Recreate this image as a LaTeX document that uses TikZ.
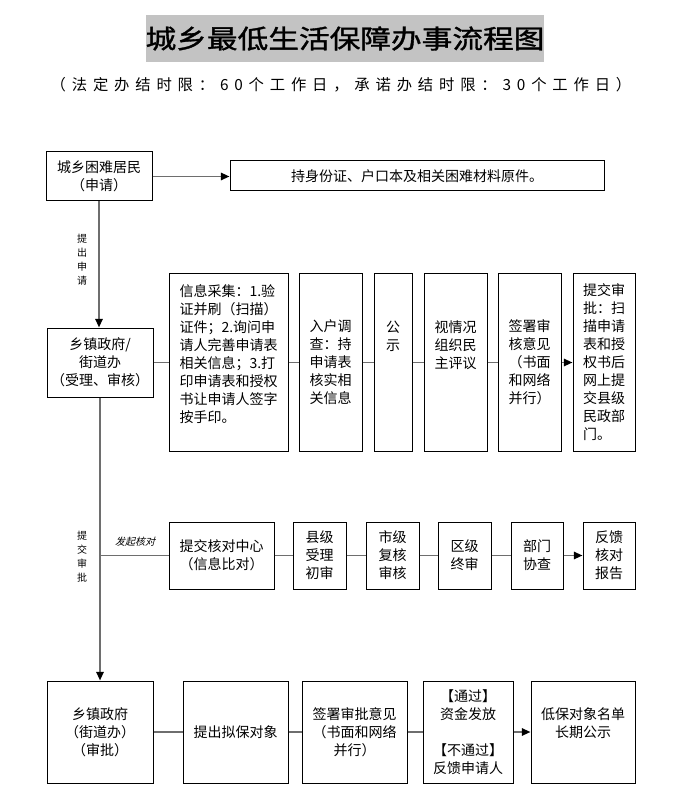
\documentclass[tikz,border=0pt]{standalone}
\usepackage{graphicx}
\usepackage{fontspec}
\setmainfont{Noto Sans CJK SC}
\newfontfamily\slcjk{Noto Sans CJK SC}[FakeSlant=0.25]
\newfontfamily\subfont{Noto Sans CJK SC}[LetterSpace=38]
\newfontfamily\titlefont{Noto Sans CJK SC}[FakeBold=1.2]
\usetikzlibrary{arrows.meta}
\definecolor{linegray}{RGB}{110,110,110}
\definecolor{titlegray}{RGB}{195,195,195}
\tikzset{
 box/.style={draw=black, line width=0.75pt, inner sep=0pt, align=center, font=\fontsize{10.5pt}{13.5pt}\selectfont},
 conn/.style={draw=linegray, line width=1.4pt},
 arr/.style={conn, -{Triangle[length=6.5pt,width=5.5pt,color=black]}},
 vlab/.style={font=\fontsize{7.5pt}{10.5pt}\selectfont, align=center, inner sep=0pt},
}
\newcommand\bx[7][]{\node[box,#1, minimum width={(#5-#3)*0.75pt}, minimum height={(#6-#4)*0.75pt}] (#2) at ({(#3+#5)/2},{(#4+#6)/2}) {#7};}
\begin{document}
\begin{tikzpicture}[x=0.75pt,y=-0.75pt]
\fill[white] (0,0) rectangle (689,791);
\useasboundingbox (0,0) rectangle (689,791);
% title
\node[fill=titlegray, minimum width=390*0.75pt, minimum height=47*0.75pt, inner sep=0pt] (title) at (345,38.5)
 {\scalebox{1.18}[1]{\titlefont\fontsize{19.5pt}{20pt}\selectfont 城乡最低生活保障办事流程图}};
\node[inner sep=0pt] (sub) at (341,85) {\subfont\fontsize{11.5pt}{12pt}\selectfont （法定办结时限：60个工作日，承诺办结时限：30个工作日）};
% row 1
\bx{A}{46}{152}{152}{201}{城乡困难居民\\（申请）}
\bx{B}{230}{161}{604}{191}{持身份证、户口本及相关困难材料原件。}
% row 2
\bx{C}{47}{328}{153}{397}{乡镇政府/\\街道办\\（受理、审核）}
\bx[align=left]{D}{169}{274}{288}{451}{信息采集：1.验\\证并刷（扫描）\\证件；2.询问申\\请人完善申请表\\相关信息；3.打\\印申请表和授权\\书让申请人签字\\按手印。\\\mbox{}}
\bx{E}{299}{274}{362}{451}{入户调\\查：持\\申请表\\核实相\\关信息}
\bx{F}{374}{274}{412}{451}{公\\示\\\mbox{}\\\mbox{}\\\mbox{}}
\bx{G}{424}{274}{487}{451}{视情况\\组织民\\主评议\\\mbox{}\\\mbox{}}
\bx{H}{498}{274}{561}{451}{签署审\\核意见\\（书面\\和网络\\并行）}
\bx[align=left]{I}{573}{274}{635}{451}{提交审\\批：扫\\描申请\\表和授\\权书后\\网上提\\交县级\\民政部\\门。}
% row 3
\bx{J}{169}{522}{274}{589}{提交核对中心\\（信息比对）}
\bx{K}{293}{522}{346}{589}{县级\\受理\\初审}
\bx{L}{366}{522}{419}{589}{市级\\复核\\审核}
\bx{M}{438}{522}{491}{589}{区级\\终审}
\bx{N}{511}{522}{563}{589}{部门\\协查}
\bx{O}{583}{522}{635}{589}{反馈\\核对\\报告}
% row 4
\bx{P}{47}{681}{153}{783}{乡镇政府\\（街道办）\\（审批）}
\bx{Q}{183}{681}{288}{783}{提出拟保对象}
\bx{R}{302}{681}{407}{783}{签署审批意见\\（书面和网络\\并行）}
\bx{S}{423}{681}{513}{783}{【通过】\\资金发放\\\mbox{}\\【不通过】\\反馈申请人}
\bx{T}{531}{681}{635}{783}{低保对象名单\\长期公示\\\mbox{}}
% labels
\node[vlab] (l1) at (82,260) {提\\出\\申\\请};
\node[vlab] (l2) at (82,557) {提\\交\\审\\批};
\node[inner sep=0pt, font=\slcjk\fontsize{7.5pt}{9pt}\selectfont] (l3) at (135,542) {发起核对};
% connectors
\draw[arr] (A.east) -- (A.east -| B.west);
\draw[arr] (A.south) -- (A.south |- C.north);
\draw[conn] (C) -- (D);
\draw[conn] (D) -- (E);
\draw[conn] (E) -- (F);
\draw[conn] (F) -- (G);
\draw[conn] (G) -- (H);
\draw[arr] (H) -- (I);
\draw[arr] (C.south) -- (P.north);
\coordinate (br) at (C.south |- J.west);
\draw[conn] (br) -- (J.west);
\draw[conn] (J) -- (K);
\draw[conn] (K) -- (L);
\draw[conn] (L) -- (M);
\draw[conn] (M) -- (N);
\draw[arr] (N) -- (O);
\draw[conn] (P) -- (Q);
\draw[conn] (Q) -- (R);
\draw[conn] (R) -- (S);
\draw[arr] (S) -- (T);
\end{tikzpicture}
\end{document}
